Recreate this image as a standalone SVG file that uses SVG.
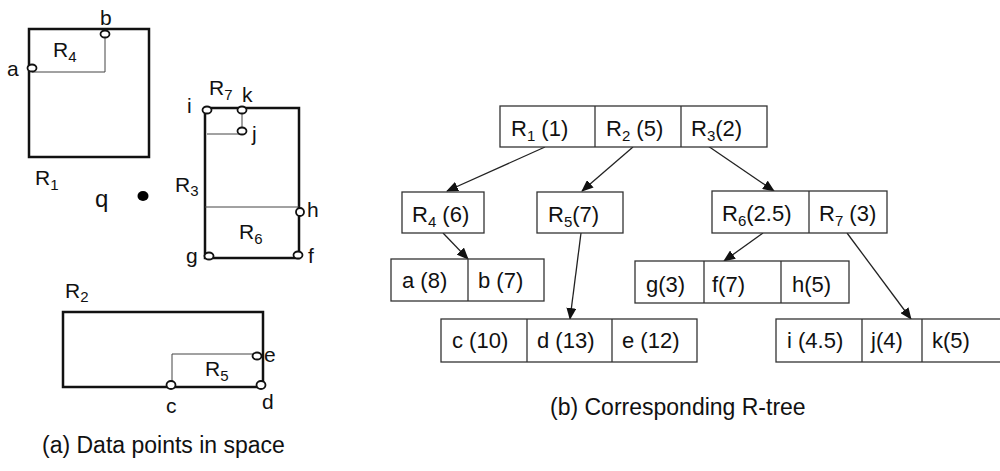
<svg xmlns="http://www.w3.org/2000/svg" width="1000" height="471" viewBox="0 0 1000 471">
<defs>
<style>
text{font-family:"Liberation Sans",Arial,sans-serif;fill:#111}
.lbl{font-size:21px}
.tl{font-size:22px}
.cap{font-size:23px}
.sub{font-size:15px}
.thick{fill:none;stroke:#111;stroke-width:2.5}
.thin{fill:none;stroke:#444;stroke-width:1}
.pt{fill:#fff;stroke:#111;stroke-width:1.8}
.box{fill:#fff;stroke:#333;stroke-width:1.3}
.div{stroke:#333;stroke-width:1.3}
.conn{stroke:#222;stroke-width:1.3;fill:none}
</style>
<marker id="ah" markerUnits="userSpaceOnUse" markerWidth="12" markerHeight="10" refX="11" refY="5" orient="auto">
<path d="M0,0 L12,5 L0,10 Z" fill="#111"/>
</marker>
</defs>
<rect width="1000" height="471" fill="#fff"/>

<!-- (a) spatial view -->
<g id="space-R1">
<rect class="thick" x="29" y="29" width="120" height="128"/>
<text class="lbl" x="35" y="185">R<tspan class="sub" dy="5">1</tspan></text>
</g>
<g id="space-R4">
<polyline class="thin" points="32,72 105,72 105,34"/>
<text class="lbl" x="53" y="57">R<tspan class="sub" dy="5">4</tspan></text>
</g>
<g id="point-a">
<ellipse class="pt" cx="32" cy="68" rx="4.5" ry="3.5"/>
<text class="lbl" x="7" y="76">a</text>
</g>
<g id="point-b">
<ellipse class="pt" cx="105" cy="34" rx="4.5" ry="3.5"/>
<text class="lbl" x="100" y="25">b</text>
</g>
<g id="query-q">
<text x="95" y="207" style="font-size:24px">q</text>
<ellipse cx="143" cy="196" rx="5.5" ry="5" fill="#000"/>
</g>
<g id="space-R3">
<rect class="thick" x="205" y="108" width="94" height="150"/>
<text class="lbl" x="175" y="192">R<tspan class="sub" dy="4">3</tspan></text>
</g>
<g id="space-R6">
<line class="thin" x1="205" y1="207" x2="299" y2="207"/>
<text class="lbl" x="239" y="239">R<tspan class="sub" dy="5">6</tspan></text>
</g>
<g id="space-R7">
<polyline class="thin" points="207,134 240,134"/>
<line class="thin" x1="242" y1="110" x2="242" y2="128"/>
<text class="lbl" x="209" y="95">R<tspan class="sub" dy="5">7</tspan></text>
</g>
<g id="point-i"><ellipse class="pt" cx="207" cy="110" rx="4.5" ry="3.5"/><text class="lbl" x="187" y="113">i</text></g>
<g id="point-k"><ellipse class="pt" cx="242" cy="110" rx="4.5" ry="3.5"/><text class="lbl" x="242" y="102">k</text></g>
<g id="point-j"><ellipse class="pt" cx="242" cy="131" rx="4.5" ry="3.5"/><text class="lbl" x="252" y="141">j</text></g>
<g id="point-h"><ellipse class="pt" cx="300" cy="212" rx="4" ry="4"/><text class="lbl" x="307" y="217">h</text></g>
<g id="point-g"><ellipse class="pt" cx="209" cy="256" rx="4.5" ry="3.5"/><text class="lbl" x="186" y="263">g</text></g>
<g id="point-f"><ellipse class="pt" cx="298" cy="255" rx="4.5" ry="3.5"/><text class="lbl" x="308" y="263">f</text></g>

<g id="space-R2">
<rect class="thick" x="63" y="312" width="200" height="75"/>
<text class="lbl" x="65" y="298">R<tspan class="sub" dy="4">2</tspan></text>
</g>
<g id="space-R5">
<polyline class="thin" points="172,387 172,354 257,354"/>
<text class="lbl" x="205" y="376">R<tspan class="sub" dy="5">5</tspan></text>
</g>
<g id="point-e"><ellipse class="pt" cx="257" cy="356" rx="4.5" ry="3.5"/><text class="lbl" x="264" y="362">e</text></g>
<g id="point-c"><ellipse class="pt" cx="171" cy="385" rx="4.5" ry="4"/><text class="lbl" x="166" y="413">c</text></g>
<g id="point-d"><ellipse class="pt" cx="261" cy="385" rx="4.5" ry="4"/><text class="lbl" x="262" y="409">d</text></g>
<text class="cap" x="42" y="453">(a) Data points in space</text>

<!-- (b) R-tree -->
<g id="connectors">
<line class="conn" x1="545" y1="147" x2="447" y2="191" marker-end="url(#ah)"/>
<line class="conn" x1="633" y1="147" x2="582" y2="191" marker-end="url(#ah)"/>
<line class="conn" x1="708" y1="146" x2="774" y2="191" marker-end="url(#ah)"/>
<line class="conn" x1="443" y1="233" x2="468" y2="259" marker-end="url(#ah)"/>
<line class="conn" x1="581" y1="233" x2="570" y2="319" marker-end="url(#ah)"/>
<line class="conn" x1="763" y1="233" x2="724" y2="261" marker-end="url(#ah)"/>
<line class="conn" x1="847" y1="233" x2="911" y2="319" marker-end="url(#ah)"/>
</g>

<g id="node-root">
<rect class="box" x="500" y="106" width="267" height="41"/>
<line class="div" x1="595" y1="106" x2="595" y2="147"/>
<line class="div" x1="681" y1="106" x2="681" y2="147"/>
<text class="tl" x="511" y="136">R<tspan class="sub" dy="5">1</tspan><tspan dy="-5"> (1)</tspan></text>
<text class="tl" x="606" y="136">R<tspan class="sub" dy="5">2</tspan><tspan dy="-5"> (5)</tspan></text>
<text class="tl" x="691" y="136">R<tspan class="sub" dy="5">3</tspan><tspan dy="-5">(2)</tspan></text>
</g>
<g id="node-R4">
<rect class="box" x="402" y="192" width="82" height="41"/>
<text class="tl" x="412" y="222">R<tspan class="sub" dy="5">4</tspan><tspan dy="-5"> (6)</tspan></text>
</g>
<g id="node-R5">
<rect class="box" x="537" y="192" width="86" height="41"/>
<text class="tl" x="548" y="222">R<tspan class="sub" dy="5">5</tspan><tspan dy="-5">(7)</tspan></text>
</g>
<g id="node-R6R7">
<rect class="box" x="712" y="191" width="175" height="42"/>
<line class="div" x1="809" y1="191" x2="809" y2="233"/>
<text class="tl" x="722" y="221">R<tspan class="sub" dy="5">6</tspan><tspan dy="-5">(2.5)</tspan></text>
<text class="tl" x="819" y="221">R<tspan class="sub" dy="5">7</tspan><tspan dy="-5"> (3)</tspan></text>
</g>
<g id="leaf-ab">
<rect class="box" x="391" y="259" width="153" height="42"/>
<line class="div" x1="468" y1="259" x2="468" y2="301"/>
<text class="tl" x="402" y="288">a (8)</text>
<text class="tl" x="478" y="288">b (7)</text>
</g>
<g id="leaf-cde">
<rect class="box" x="441" y="319" width="256" height="43"/>
<line class="div" x1="527" y1="319" x2="527" y2="362"/>
<line class="div" x1="612" y1="319" x2="612" y2="362"/>
<text class="tl" x="452" y="348">c (10)</text>
<text class="tl" x="537" y="348">d (13)</text>
<text class="tl" x="622" y="348">e (12)</text>
</g>
<g id="leaf-gfh">
<rect class="box" x="635" y="261" width="214" height="42"/>
<line class="div" x1="704" y1="261" x2="704" y2="303"/>
<line class="div" x1="781" y1="261" x2="781" y2="303"/>
<text class="tl" x="646" y="292">g(3)</text>
<text class="tl" x="712" y="292">f(7)</text>
<text class="tl" x="792" y="292">h(5)</text>
</g>
<g id="leaf-ijk">
<rect class="box" x="776" y="319" width="230" height="43"/>
<line class="div" x1="862" y1="319" x2="862" y2="362"/>
<line class="div" x1="922" y1="319" x2="922" y2="362"/>
<text class="tl" x="787" y="348">i (4.5)</text>
<text class="tl" x="871" y="348">j(4)</text>
<text class="tl" x="932" y="348">k(5)</text>
</g>
<text class="cap" x="550" y="415">(b) Corresponding R-tree</text>
</svg>
